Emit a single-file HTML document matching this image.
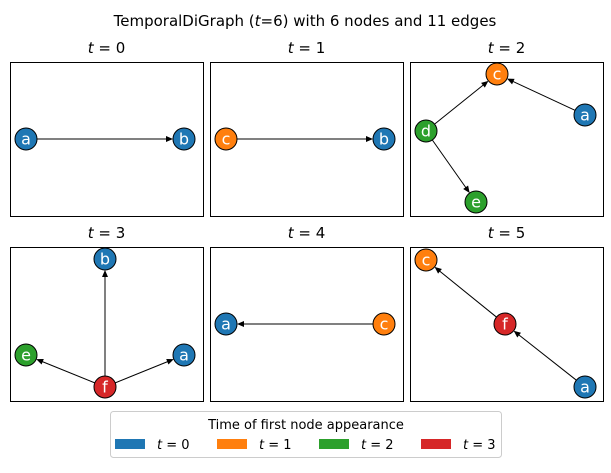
<!DOCTYPE html>
<html><head><meta charset="utf-8"><style>
body{margin:0;background:#fff;font-family:"Liberation Sans","DejaVu Sans",sans-serif}
svg text{font-family:"DejaVu Sans","Liberation Sans",sans-serif}
</style></head><body>
<svg id="c" width="611" height="468" xmlns="http://www.w3.org/2000/svg">
<text x="305" y="26" text-anchor="middle" font-size="15">TemporalDiGraph (<tspan font-style="italic">t</tspan>=6) with 6 nodes and 11 edges</text>
</svg>
<script>
const panelTimes=[0,1,2,3,4,5];
const panelNodes=[
 [["a",26,139],["b",184,139]],
 [["c",226,139],["b",384,139]],
 [["c",497,74],["a",585,115],["d",426,131],["e",476,202]],
 [["b",105,259],["e",26,355],["f",105,387],["a",184,355]],
 [["a",226,324],["c",384,324]],
 [["c",426,260],["f",505,324],["a",585,387]]
];
const panelEdges=[
 [["a","b"]],
 [["c","b"]],
 [["a","c"],["d","c"],["d","e"]],
 [["f","b"],["f","e"],["f","a"]],
 [["c","a"]],
 [["a","f"],["f","c"]]
];
const firstAppear={a:0,b:0,c:1,d:2,e:2,f:3};
const colors=["#1f77b4","#ff7f0e","#2ca02c","#d62728"];
const panels=[[10,62],[210,62],[410,62],[10,247],[210,247],[410,247]];
const W=193,H=154,R=11;
const svg=document.getElementById('c');const NS="http://www.w3.org/2000/svg";
function mk(t,a,p){const e=document.createElementNS(NS,t);for(const k in a)e.setAttribute(k,a[k]);(p||svg).appendChild(e);return e;}
panelTimes.forEach((t,i)=>{
 const [px,py]=panels[i];
 const g=mk('g',{});
 
 
 const rc=mk('rect',{x:px+0.5,y:py+0.5,width:W,height:H,fill:'none',stroke:'#000','stroke-width':1},g);
 
 
 const tt=mk('text',{x:px+W/2,y:py-9,'text-anchor':'middle','font-size':15},g);
 tt.innerHTML='<tspan font-style="italic">t</tspan> = '+t;
 
 
 const pos={};panelNodes[i].forEach(n=>pos[n[0]]=[n[1],n[2]]);
 panelEdges[i].forEach(([s,d])=>{
  const [x1,y1]=pos[s],[x2,y2]=pos[d];const dx=x2-x1,dy=y2-y1,L=Math.hypot(dx,dy),ux=dx/L,uy=dy/L;
  const sx=x1+ux*R,sy=y1+uy*R,ex=x2-ux*R,ey=y2-uy*R;
  const ln=mk('line',{x1:sx,y1:sy,x2:ex-ux*6,y2:ey-uy*6,stroke:'#000','stroke-width':1},g);
  
  
  const bx=ex-ux*7,by=ey-uy*7,nx=-uy*3,ny=ux*3;
  const ah=mk('polygon',{points:`${ex},${ey} ${bx+nx},${by+ny} ${bx-nx},${by-ny}`,fill:'#000'},g);
  
  
 });
 panelNodes[i].forEach(([n,x,y])=>{
  const c=mk('circle',{cx:x,cy:y,r:R,fill:colors[firstAppear[n]],stroke:'#000','stroke-width':1},g);
  
  
  const tx=mk('text',{x:x,y:y+5.5,'text-anchor':'middle','font-size':16,fill:'#fff'},g);tx.textContent=n;
  
  
 });
});
const lg=mk('g',{});


mk('rect',{x:110.5,y:411.5,width:391,height:46,rx:3,fill:'#fff',stroke:'#ccc'},lg);
const lt=mk('text',{x:306,y:429,'text-anchor':'middle','font-size':13},lg);lt.textContent='Time of first node appearance';


[0,1,2,3].forEach(k=>{
 const x=115+k*102;
 const p=mk('rect',{x:x,y:439,width:30,height:10,fill:colors[k]},lg);
 
 
 const t=mk('text',{x:x+42,y:449,'font-size':13},lg);t.innerHTML='<tspan font-style="italic">t</tspan> = '+k;
 
 
});
</script>
</body></html>
